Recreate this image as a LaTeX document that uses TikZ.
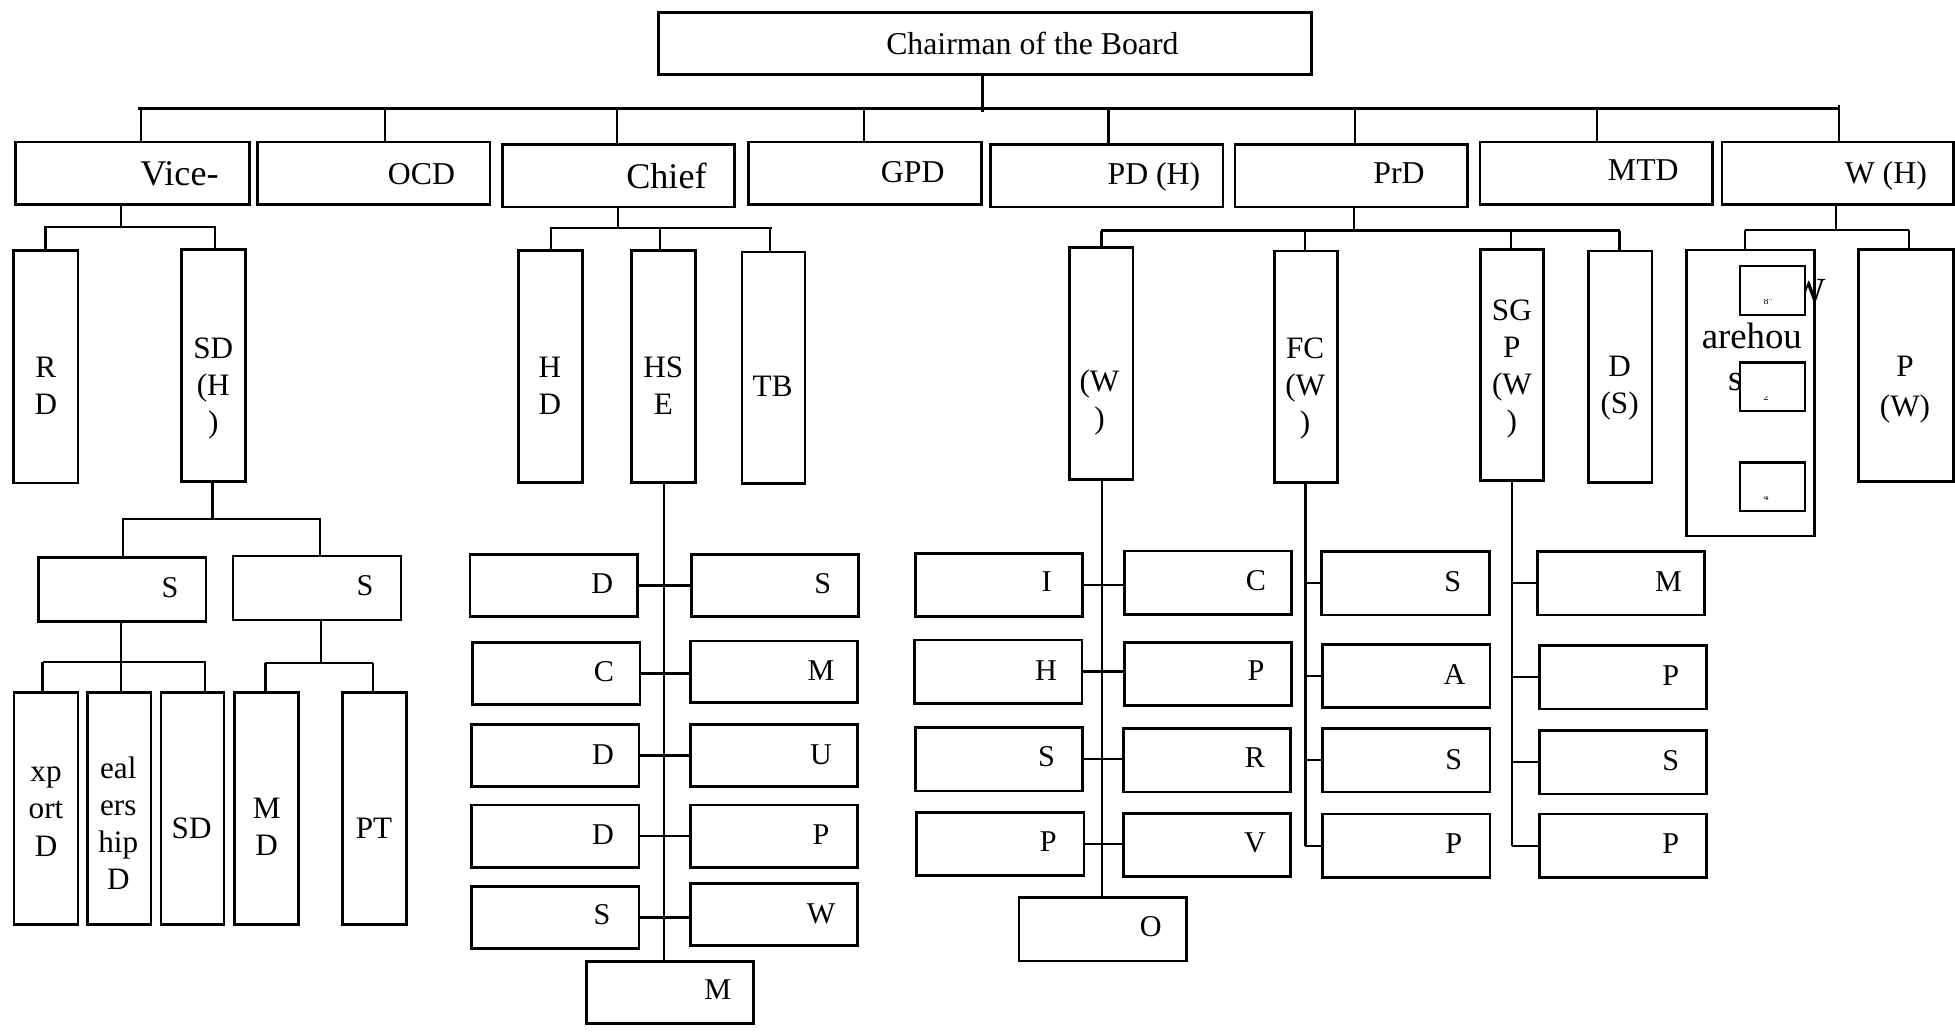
\documentclass[tikz,border=0pt]{standalone}
\usepackage{fontspec}
\setmainfont{Liberation Serif}

% type sizes used in the chart
\newcommand\fTop{\fontsize{25.5}{30}\selectfont}
\newcommand\fBig{\fontsize{29}{34}\selectfont}
\newcommand\fCell{\fontsize{24.2}{29}\selectfont}
\newcommand\fCol{\fontsize{25}{29.8}\selectfont}
\newcommand\fColW{\fontsize{25}{32.7}\selectfont}
\newcommand\fWare{\fontsize{29.5}{36}\selectfont}
\newcommand\fTiny{\fontsize{8}{9}\selectfont}

\tikzset{
  unit/.style={draw, rectangle, line width=2.1pt, fill=white, inner sep=0pt, outer sep=0pt},
  wire/.style={line width=1.9pt},
  lbl/.style={anchor=base, inner sep=0pt, outer sep=0pt},
}

% box given by its left, top, right and bottom edges
\newcommand\orgbox[5]{\node[unit, minimum width={(#4-(#2))*1pt}, minimum height={(#5-(#3))*1pt}] (#1) at ({(#2+#4)/2},{(#3+#5)/2}) {};}
% label placed by the baseline of its first line
\newcommand\orgtext[5]{\node[lbl] (#1) at (#2,#3) {#4\begin{tabular}[t]{@{}c@{}}#5\end{tabular}};}

\begin{document}
\begin{tikzpicture}[x=1pt, y=-1pt]
\fill[white] (0,0) rectangle (1568,829);
\useasboundingbox (0,0) rectangle (1568,829);

% ---------- boxes ----------
\orgbox{chair}{528}{10}{1052}{60}
\orgbox{vice}{12.5}{114}{200}{164}
\orgbox{ocd}{206.5}{114}{393}{164}
\orgbox{chief}{403}{116}{589}{166}
\orgbox{gpd}{600.5}{114}{787}{164}
\orgbox{pdh}{794.5}{116}{981}{166}
\orgbox{prd}{990.5}{116}{1177}{166}
\orgbox{mtd}{1187}{114}{1373.5}{164}
\orgbox{wh}{1381}{114}{1567}{164}

% vice branch
\orgbox{rd}{11}{201}{62.5}{387.5}
\orgbox{sdh}{145.5}{200}{197}{386}
\orgbox{s1}{31}{447.3}{165.2}{498.4}
\orgbox{s2}{187}{446}{321.6}{497.3}
\orgbox{xport}{11.2}{555.6}{62.6}{741.4}
\orgbox{dealer}{70}{555.6}{121}{741.4}
\orgbox{sdb}{129}{555.6}{179.7}{741.4}
\orgbox{md}{188.2}{555.6}{239.3}{741.4}
\orgbox{pt}{274.8}{555.6}{326.2}{741.4}

% chief branch
\orgbox{hd}{415.7}{201}{467}{387}
\orgbox{hse}{506.6}{201}{558}{387}
\orgbox{tb}{595}{202}{645.7}{388}
\orgbox{cd1}{377}{444.6}{511.2}{494.6}
\orgbox{cc}{379}{515.2}{513.3}{565}
\orgbox{cd2}{378.3}{581}{512.5}{631}
\orgbox{cd3}{378.3}{645.7}{512.5}{695.6}
\orgbox{cs}{378.3}{711.2}{512.5}{760.6}
\orgbox{cs2}{554.8}{444.6}{688.7}{494.6}
\orgbox{cm}{553.7}{514.1}{687.6}{563.6}
\orgbox{cu}{553.7}{581}{687.6}{631}
\orgbox{cp}{553.7}{645.7}{687.6}{695.6}
\orgbox{cw}{553.7}{708.5}{687.6}{758.5}
\orgbox{cmb}{470.3}{771}{604.5}{821}

% PrD branch
\orgbox{pw}{858}{198.7}{908.8}{384.5}
\orgbox{fc}{1022}{201.4}{1072.5}{387.2}
\orgbox{sgp}{1187.3}{200}{1237.7}{385.6}
\orgbox{ds}{1274.2}{201.4}{1324.9}{387.2}
\orgbox{pi}{734.4}{443.8}{868.3}{494.6}
\orgbox{ph}{733.3}{513.3}{867.8}{564.1}
\orgbox{ps}{734.4}{583.6}{868.3}{634.4}
\orgbox{pp}{735.2}{651.5}{869.4}{702.3}
\orgbox{pc}{901.7}{441.9}{1036}{492.7}
\orgbox{pp2}{901.7}{515.2}{1036}{566}
\orgbox{pr}{900.9}{584.4}{1035.2}{635.2}
\orgbox{pv}{900.9}{652.3}{1035.2}{703.1}
\orgbox{ob}{817.3}{719.7}{951.8}{770.8}
\orgbox{fs}{1060.1}{442.4}{1194.6}{493.2}
\orgbox{fa}{1060.9}{516.8}{1195.1}{567.3}
\orgbox{fs2}{1060.9}{584.4}{1195.1}{635.2}
\orgbox{fp}{1060.9}{652.9}{1195.1}{703.7}
\orgbox{gm}{1233.1}{442.4}{1367}{493.2}
\orgbox{gp}{1234.7}{517.8}{1368.9}{568.6}
\orgbox{gs}{1234.7}{586}{1368.9}{636.8}
\orgbox{gp2}{1234.7}{652.9}{1368.9}{703.7}

% W (H) branch
\orgbox{ware}{1352.8}{200.6}{1455.2}{430}
\orgbox{pwb}{1490.5}{200}{1566.7}{386.4}

% ---------- connectors between named boxes ----------
% top level
\coordinate (busL) at (111,87);
\coordinate (busR) at (1476,87);
\draw[wire] (busL) -- (busR);
\draw[wire] (788,0 |- chair.south) -- (788,90);
\foreach \x/\n in {113/vice, 308.6/ocd, 495/chief, 693/gpd, 889/pdh, 1086.6/prd, 1281/mtd}
  \draw[wire] (\x,0 |- busL) -- (\x,0 |- \n.north);
\draw[wire] (1475,84) -- (1475,0 |- wh.north);

% vice
\draw[wire] (97,0 |- vice.south) -- (97,182);
\draw[wire] (35.5,182) -- (173.5,182);
\draw[wire] (36.6,182) -- (36.6,0 |- rd.north);
\draw[wire] (172.4,182) -- (172.4,0 |- sdh.north);
\draw[wire] (170.5,0 |- sdh.south) -- (170.5,416.3);
\draw[wire] (98,416.3) -- (257.2,416.3);
\draw[wire] (98.9,416.3) -- (98.9,0 |- s1.north);
\draw[wire] (256.7,416.3) -- (256.7,0 |- s2.north);
\draw[wire] (96.8,0 |- s1.south) -- (96.8,531);
\draw[wire] (34.2,531) -- (165.2,531);
\foreach \x/\n in {34.2/xport, 96.8/dealer, 164.2/sdb}
  \draw[wire] (\x,531) -- (\x,0 |- \n.north);
\draw[wire] (257.5,0 |- s2.south) -- (257.5,531.5);
\draw[wire] (212.5,531.5) -- (299,531.5);
\foreach \x/\n in {213/md, 299/pt}
  \draw[wire] (\x,531.5) -- (\x,0 |- \n.north);

% chief
\draw[wire] (495.9,0 |- chief.south) -- (495.9,183);
\draw[wire] (441,183) -- (619.5,183);
\foreach \x/\n in {442/hd, 529.4/hse, 617.6/tb}
  \draw[wire] (\x,183) -- (\x,0 |- \n.north);
\draw[wire] (532.3,0 |- hse.south) -- (532.3,0 |- cmb.north);
\foreach \a/\b in {cd1/cs2, cc/cm, cd2/cu, cd3/cp, cs/cw}
  \draw[wire] (\a.east) -- (\a.east -| \b.west);

% PrD
\draw[wire] (1086,0 |- prd.south) -- (1086,185);
\draw[wire] (883.4,185) -- (1299.5,185);
\foreach \x/\n in {883.4/pw, 1046.5/fc, 1212/sgp, 1299/ds}
  \draw[wire] (\x,185) -- (\x,0 |- \n.north);
\draw[wire] (884,0 |- pw.south) -- (884,0 |- ob.north);
\foreach \a/\b in {pi/pc, ph/pp2, ps/pr, pp/pv}
  \draw[wire] (\a.east) -- (\a.east -| \b.west);
\draw[wire] (1047,0 |- fc.south) -- (1047,0 |- fp.west);
\foreach \n in {fs, fa, fs2, fp}
  \draw[wire] (1047,0 |- \n.west) -- (\n.west);
\draw[wire] (1212.5,0 |- sgp.south) -- (1212.5,0 |- gp2.west);
\foreach \n in {gm, gp, gs, gp2}
  \draw[wire] (1212.5,0 |- \n.west) -- (\n.west);

% W (H)
\draw[wire] (1472.3,0 |- wh.south) -- (1472.3,184.5);
\draw[wire] (1399.6,184.5) -- (1531.2,184.5);
\draw[wire] (1399.6,184.5) -- (1399.6,0 |- ware.north);
\draw[wire] (1531.2,184.5) -- (1531.2,0 |- pwb.north);

% ---------- labels ----------
\orgtext{t-chair}{828}{44}{\fTop}{Chairman of the Board}
\orgtext{t-vice}{144}{149}{\fBig}{Vice-}
\orgtext{t-ocd}{338}{148}{\fTop}{OCD}
\orgtext{t-chief}{534.5}{151}{\fBig}{Chief}
\orgtext{t-gpd}{732}{146}{\fTop}{GPD}
\orgtext{t-pdh}{925.5}{148}{\fTop}{PD (H)}
\orgtext{t-prd}{1122}{147}{\fTop}{PrD}
\orgtext{t-mtd}{1318}{145}{\fTop}{MTD}
\orgtext{t-wh}{1512.5}{147}{\fTop}{W (H)}

\orgtext{t-rd}{36.7}{303}{\fCol}{R\\D}
\orgtext{t-sdh}{171}{287.4}{\fCol}{SD\\(H\\)}
\orgtext{t-s1}{136.4}{479}{\fCell}{S}
\orgtext{t-s2}{292.7}{478}{\fCell}{S}
\orgtext{t-xport}{36.9}{627}{\fCol}{xp\\ort\\D}
\orgtext{t-dealer}{94.9}{624.3}{\fCol}{eal\\ers\\hip\\D}
\orgtext{t-sdb}{153.7}{672.4}{\fCol}{SD}
\orgtext{t-md}{213.9}{656.3}{\fCol}{M\\D}
\orgtext{t-pt}{300}{672.4}{\fCol}{PT}

\orgtext{t-hd}{441.1}{302.6}{\fCol}{H\\D}
\orgtext{t-hse}{532}{302.6}{\fCol}{HS\\E}
\orgtext{t-tb}{619.7}{318.2}{\fCol}{TB}
\orgtext{t-cd1}{483.1}{476.4}{\fCell}{D}
\orgtext{t-cc}{484.4}{546.7}{\fCell}{C}
\orgtext{t-cd2}{483.6}{612.8}{\fCell}{D}
\orgtext{t-cd3}{483.6}{677.7}{\fCell}{D}
\orgtext{t-cs}{482.8}{741.3}{\fCell}{S}
\orgtext{t-cs2}{659.8}{476.4}{\fCell}{S}
\orgtext{t-cm}{658.5}{545.8}{\fCell}{M}
\orgtext{t-cu}{658.5}{612.8}{\fCell}{U}
\orgtext{t-cp}{658.5}{677.7}{\fCell}{P}
\orgtext{t-cw}{658.5}{740.6}{\fCell}{W}
\orgtext{t-cmb}{575.6}{802}{\fCell}{M}

\orgtext{t-pw}{881.8}{314.2}{\fCol}{(W\\)}
\orgtext{t-fc}{1046.8}{287.5}{\fCol}{FC\\(W\\)}
\orgtext{t-sgp}{1212.6}{256.7}{\fCol}{SG\\P\\(W\\)}
\orgtext{t-ds}{1299}{302.2}{\fCol}{D\\(S)}
\orgtext{t-pi}{839.4}{474.5}{\fCell}{I}
\orgtext{t-ph}{838.9}{545.4}{\fCell}{H}
\orgtext{t-ps}{839.4}{614.9}{\fCell}{S}
\orgtext{t-pp}{840.8}{683}{\fCell}{P}
\orgtext{t-pc}{1007.4}{473.7}{\fCell}{C}
\orgtext{t-pp2}{1007.4}{545.9}{\fCell}{P}
\orgtext{t-pr}{1006.6}{615.4}{\fCell}{R}
\orgtext{t-pv}{1006.6}{683.6}{\fCell}{V}
\orgtext{t-ob}{922.9}{751.2}{\fCell}{O}
\orgtext{t-fs}{1165.2}{474.5}{\fCell}{S}
\orgtext{t-fa}{1166.5}{548.6}{\fCell}{A}
\orgtext{t-fs2}{1166}{617}{\fCell}{S}
\orgtext{t-fp}{1166}{684.4}{\fCell}{P}
\orgtext{t-gm}{1338.2}{474.5}{\fCell}{M}
\orgtext{t-gp}{1340}{549.4}{\fCell}{P}
\orgtext{t-gs}{1340}{617.6}{\fCell}{S}
\orgtext{t-gp2}{1340}{684.4}{\fCell}{P}

\orgtext{t-pwb}{1527.9}{301.6}{\fColW}{P\\(W)}
\orgtext{t-ware1}{1450}{243.3}{\fWare}{W}
\orgtext{t-ware2}{1405}{279.4}{\fWare}{arehou}
\orgtext{t-ware3}{1391.7}{312.9}{\fWare}{s}

% small frames laid over the warehouse label
\orgbox{sb1}{1395.6}{213.4}{1447.7}{252.7}
\orgbox{sb2}{1395.6}{290.9}{1447.7}{329.7}
\orgbox{sb3}{1395.6}{370.9}{1447.7}{409.7}
\begin{scope}
  \clip (1396.5,240.6) rectangle (1446.8,251.6);
  \orgtext{t-sb1}{1418.3}{244.4}{\fTiny}{8”}
\end{scope}
\begin{scope}
  \clip (1396.5,318.1) rectangle (1446.8,328.6);
  \orgtext{t-sb2}{1418.3}{321.4}{\fTiny}{2”}
\end{scope}
\begin{scope}
  \clip (1396.5,398.1) rectangle (1446.8,408.6);
  \orgtext{t-sb3}{1418.3}{401.4}{\fTiny}{4”}
\end{scope}
\end{tikzpicture}
\end{document}
